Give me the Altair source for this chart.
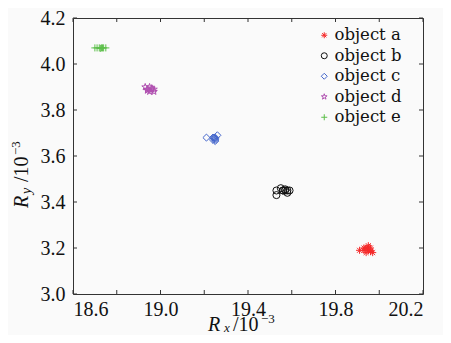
import altair as alt
import pandas as pd

names = ["object a", "object b", "object c", "object d", "object e"]
colors = ["#f52a2a", "#111111", "#4466cc", "#b050b0", "#5cbf4a"]
shapes = [
    "M-1,0L1,0M0,-1L0,1M-0.7,-0.7L0.7,0.7M-0.7,0.7L0.7,-0.7",
    "circle",
    "diamond",
    "M0,-1L0.225,-0.309L0.951,-0.309L0.363,0.118L0.588,0.809L0,0.382L-0.588,0.809"
    "L-0.363,0.118L-0.951,-0.309L-0.225,-0.309Z",
    "M-1,0L1,0M0,-1L0,1",
]

a_x = [19.91, 19.93, 19.94, 19.95, 19.95, 19.96, 19.94, 19.96, 19.97, 19.95, 19.93, 19.96]
a_y = [3.19, 3.19, 3.20, 3.21, 3.19, 3.19, 3.18, 3.20, 3.18, 3.20, 3.20, 3.185]
b_x = [19.53, 19.53, 19.55, 19.56, 19.57, 19.58, 19.58, 19.59, 19.57, 19.56]
b_y = [3.43, 3.45, 3.46, 3.45, 3.45, 3.44, 3.45, 3.45, 3.455, 3.45]
c_x = [19.21, 19.24, 19.25, 19.25, 19.24, 19.26, 19.25, 19.25, 19.245]
c_y = [3.68, 3.68, 3.67, 3.68, 3.67, 3.69, 3.675, 3.665, 3.68]
d_x = [18.93, 18.94, 18.95, 18.95, 18.96, 18.97, 18.97, 18.94, 18.96]
d_y = [3.90, 3.89, 3.90, 3.88, 3.89, 3.88, 3.89, 3.885, 3.895]
e_x = [18.70, 18.71, 18.72, 18.73, 18.74, 18.75, 18.725, 18.735]
e_y = [4.07, 4.07, 4.07, 4.07, 4.07, 4.07, 4.068, 4.07]

x_ticks = [18.6, 18.8, 19.0, 19.2, 19.4, 19.6, 19.8, 20.0, 20.2]
x_labels = [18.6, 19.0, 19.4, 19.8, 20.2]
y_ticks = [3.0, 3.2, 3.4, 3.6, 3.8, 4.0, 4.2]

rows = []
for n, xs, ys in zip(names, [a_x, b_x, c_x, d_x, e_x], [a_y, b_y, c_y, d_y, e_y]):
    for xv, yv in zip(xs, ys):
        rows.append({"obj": n, "x": xv, "y": yv})
df = pd.DataFrame(rows)

W, H = 350, 276
TICK = "#333333"
LABEL_FONT = "Liberation Serif"

X = alt.X("x:Q", scale=alt.Scale(domain=[18.6, 20.2], nice=False, zero=False),
          axis=alt.Axis(values=x_labels, format=".1f", title=None, domain=False, ticks=False,
                        grid=False, labelFont=LABEL_FONT, labelFontSize=20, labelPadding=5,
                        labelColor="#111111"))
Y = alt.Y("y:Q", scale=alt.Scale(domain=[3.0, 4.2], nice=False, zero=False),
          axis=alt.Axis(values=y_ticks, format=".1f", title=None, domain=False, ticks=False,
                        grid=False, labelFont=LABEL_FONT, labelFontSize=20, labelPadding=8,
                        labelColor="#111111"))

leg = alt.Legend(title=None, orient="none", legendX=243, legendY=9, labelFont="DejaVu Serif",
                 labelFontSize=16.5, labelColor="#111111", symbolSize=36, symbolStrokeWidth=1,
                 padding=0, rowPadding=3.5, labelOffset=2, labelLimit=200)

points = alt.Chart(df).mark_point(filled=False, size=50, strokeWidth=1, opacity=1).encode(
    x=X, y=Y,
    color=alt.Color("obj:N", scale=alt.Scale(domain=names, range=colors), legend=leg),
    shape=alt.Shape("obj:N", scale=alt.Scale(domain=names, range=shapes), legend=leg),
)

xt = pd.DataFrame({"x": x_ticks})
yt = pd.DataFrame({"y": y_ticks})
tb = alt.Chart(xt).mark_rule(color=TICK, strokeWidth=1).encode(x=X, y=alt.value(H), y2=alt.value(H - 4))
tt = alt.Chart(xt).mark_rule(color=TICK, strokeWidth=1).encode(x=X, y=alt.value(0), y2=alt.value(4))
tl = alt.Chart(yt).mark_rule(color=TICK, strokeWidth=1).encode(y=Y, x=alt.value(0), x2=alt.value(4))
tr = alt.Chart(yt).mark_rule(color=TICK, strokeWidth=1).encode(y=Y, x=alt.value(W), x2=alt.value(W - 4))


def piece(text, x, y, size, italic=False, angle=0):
    kw = dict(align="left", baseline="alphabetic", font=LABEL_FONT, fontSize=size,
              color="#111111")
    if italic:
        kw["fontStyle"] = "italic"
    if angle:
        kw["angle"] = angle
    return alt.Chart(pd.DataFrame({"t": [text]})).mark_text(**kw).encode(
        text="t:N", x=alt.value(x), y=alt.value(y))


titles = [
    piece("R", 135, 313, 20, True),
    piece("x", 151, 314, 13, True),
    piece("/10", 160, 313, 20),
    piece("\u22123", 188, 305, 13),
    piece("R", -45, 190, 20, True, 270),
    piece("y", -42, 176, 14, True, 270),
    piece("/10", -45, 164, 20, False, 270),
    piece("\u22123", -53, 137, 13, False, 270),
]

chart = alt.layer(points, tb, tt, tl, tr, *titles).properties(
    width=W, height=H,
    padding={"left": 65, "top": 10, "right": 20, "bottom": 41},
    autosize=alt.AutoSizeParams(type="none"),
    background="#fafafa",
).configure_view(stroke=TICK, strokeWidth=1, fill="#fafafa")

chart.save("out.html", embed_options={"renderer": "svg", "actions": False})
